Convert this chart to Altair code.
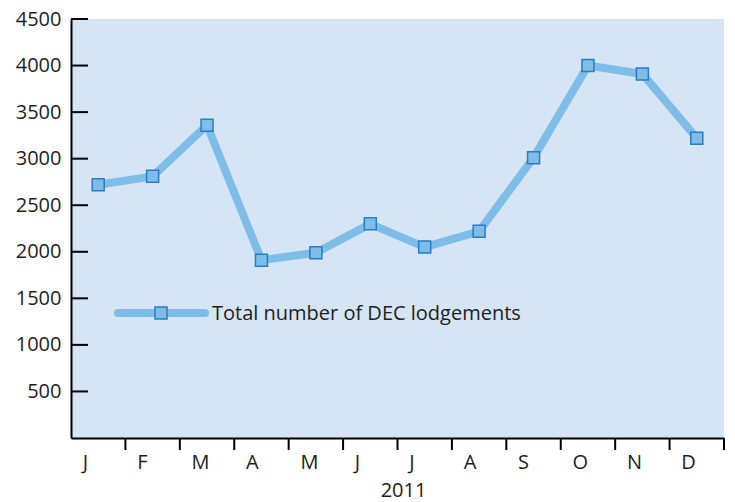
import altair as alt
import pandas as pd

months = ["J", "F", "M", "A", "M", "J", "J", "A", "S", "O", "N", "D"]
values = [2720, 2810, 3360, 1910, 1990, 2300, 2050, 2220, 3010, 4000, 3910, 3220]
y_ticks = [500, 1000, 1500, 2000, 2500, 3000, 3500, 4000, 4500]
series_name = "Total number of DEC lodgements"
x_title = "2011"

idx = list(range(len(months)))
df = pd.DataFrame({"idx": idx, "month": months, "value": values})
ticks_df = pd.DataFrame({"tick": y_ticks})
legend_df = pd.DataFrame({"label": [series_name]})

FONT = "Open Sans"
LINE = "#7dbde8"
EDGE = "#2a7cc4"
TXT = "#1e1e1e"

month_arr = "[" + ",".join(f"'{m}'" for m in months) + "]"

x_scale = alt.Scale(domain=[-0.5, len(months) - 0.5], nice=False, zero=False)
x_enc = alt.X(
    "idx:Q",
    scale=x_scale,
    axis=alt.Axis(
        title=x_title,
        values=idx,
        labelExpr=f"{month_arr}[datum.value]",
        ticks=False,
        grid=False,
        domainColor="black",
        domainWidth=2,
        labelAlign="left",
        labelOffset=-16,
        labelPadding=14,
        labelFontSize=20,
        labelFont=FONT,
        labelColor=TXT,
        labelFlush=False,
        labelOverlap=False,
        titleFont=FONT,
        titleFontSize=20,
        titleFontWeight="normal",
        titleColor=TXT,
        titlePadding=8,
        titleX=332,
    ),
)
y_scale = alt.Scale(domain=[0, 4500], nice=False, zero=True)
y_enc = alt.Y(
    "value:Q",
    scale=y_scale,
    axis=alt.Axis(
        title=None,
        values=y_ticks,
        format="d",
        ticks=False,
        grid=False,
        domainColor="black",
        domainWidth=2,
        labelPadding=10,
        labelFontSize=20,
        labelFont=FONT,
        labelColor=TXT,
        labelFlush=False,
    ),
)

base = alt.Chart(df)
line = base.mark_line(color=LINE, strokeWidth=8, strokeCap="round", strokeJoin="round").encode(x=x_enc, y=y_enc)
pts = base.mark_square(size=144, fill=LINE, opacity=1, stroke=EDGE, strokeWidth=1.5).encode(
    x=alt.X("idx:Q", scale=x_scale), y=alt.Y("value:Q", scale=y_scale)
)

xticks = base.transform_calculate(b="datum.idx + 0.5").mark_rule(color="black", strokeWidth=2).encode(
    x=alt.X("b:Q", scale=x_scale), y=alt.value(419), y2=alt.value(431)
)
yticks = alt.Chart(ticks_df).mark_rule(color="black", strokeWidth=2).encode(
    y=alt.Y("tick:Q", scale=y_scale), x=alt.value(0), x2=alt.value(17)
)

leg_line = alt.Chart(legend_df).mark_rule(color=LINE, strokeWidth=8, strokeCap="round").encode(
    x=alt.value(47), x2=alt.value(134), y=alt.value(294)
)
leg_pt = alt.Chart(legend_df).mark_square(size=144, fill=LINE, opacity=1, stroke=EDGE, strokeWidth=1.5).encode(
    x=alt.value(90), y=alt.value(294)
)
leg_txt = alt.Chart(legend_df).mark_text(align="left", baseline="middle", font=FONT, fontSize=20, color=TXT).encode(
    x=alt.value(141), y=alt.value(295), text="label:N"
)

chart = alt.layer(line, pts, xticks, yticks, leg_line, leg_pt, leg_txt).properties(
    width=653,
    height=419,
    autosize=alt.AutoSizeParams(type="none"),
    padding={"left": 63, "top": 11, "right": 3, "bottom": 64},
    background="white",
).configure_view(fill="#d5e5f5", stroke=None)

chart.save("out.html", embed_options={"renderer": "svg", "actions": False})
